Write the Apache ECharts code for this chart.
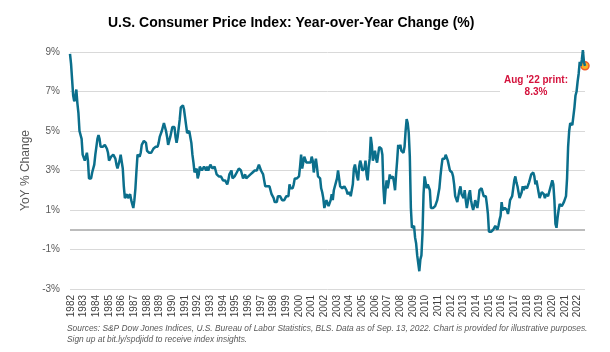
<!DOCTYPE html>
<html>
<head>
<meta charset="utf-8">
<script src="https://cdn.jsdelivr.net/npm/echarts@6/dist/echarts.min.js"></script>
<style>
  html, body { margin: 0; padding: 0; background: #fff; }
  #chart { width: 610px; height: 352px; }
</style>
</head>
<body>
<div id="chart"></div>
<script>
  // monthly CPI YoY % change, series starts Dec 1981
  const startYear = 1981
  const startMonth = 12
  const yoy1980s = [
    8.9,
    8.4, 7.6, 6.8, 6.5, 6.7, 7.1, 6.4, 5.9, 5.0, 5.1, 4.6, 3.8,
    3.7, 3.5, 3.6, 3.9, 3.5, 2.6, 2.5, 2.6, 2.9, 2.9, 3.3, 3.8,
    4.2, 4.6, 4.8, 4.6, 4.2, 4.2, 4.2, 4.3, 4.3, 4.3, 4.1, 3.9,
    3.5, 3.5, 3.7, 3.7, 3.8, 3.8, 3.6, 3.3, 3.1, 3.2, 3.5, 3.8,
    3.9, 3.1, 2.2, 1.6, 1.5, 1.8, 1.6, 1.6, 1.8, 1.5, 1.3, 1.1,
    1.5, 2.1, 3.0, 3.8, 3.9, 3.7, 3.9, 4.3, 4.4, 4.5, 4.5, 4.4,
    4.0, 3.9, 3.9, 3.9, 3.9, 4.0, 4.1, 4.0, 4.2, 4.2, 4.2, 4.4,
    4.7, 4.8, 5.0, 5.1, 5.4, 5.2, 5.0, 4.7, 4.3, 4.5, 4.7, 4.6
  ]
  const yoy1990s = [
    5.2, 5.3, 5.2, 4.7, 4.4, 4.7, 4.8, 5.6, 6.2, 6.3, 6.3, 6.1,
    5.7, 5.3, 4.9, 4.9, 5.0, 4.7, 4.4, 3.8, 3.4, 2.9, 3.0, 3.1,
    2.6, 2.8, 3.2, 3.2, 3.0, 3.1, 3.2, 3.1, 3.0, 3.2, 3.0, 2.9,
    3.3, 3.2, 3.1, 3.2, 3.2, 3.0, 2.8, 2.8, 2.7, 2.8, 2.7, 2.7,
    2.5, 2.5, 2.5, 2.4, 2.3, 2.5, 2.8, 2.9, 3.0, 2.6, 2.7, 2.7,
    2.8, 2.9, 2.9, 3.1, 3.2, 3.0, 2.8, 2.6, 2.5, 2.8, 2.6, 2.5,
    2.7, 2.7, 2.8, 2.9, 2.9, 2.8, 3.0, 2.9, 3.0, 3.0, 3.3, 3.3,
    3.0, 3.0, 2.8, 2.5, 2.2, 2.3, 2.2, 2.2, 2.2, 2.1, 1.8, 1.7,
    1.6, 1.4, 1.4, 1.4, 1.7, 1.7, 1.7, 1.6, 1.5, 1.5, 1.5, 1.6,
    1.7, 1.6, 1.7, 2.3, 2.1, 2.0, 2.1, 2.3, 2.6, 2.6, 2.6, 2.7
  ]
  const yoy2000s = [
    2.7, 3.2, 3.8, 3.1, 3.2, 3.7, 3.7, 3.4, 3.5, 3.4, 3.4, 3.4,
    3.7, 3.5, 2.9, 3.3, 3.6, 3.2, 2.7, 2.7, 2.6, 2.1, 1.9, 1.6,
    1.1, 1.1, 1.5, 1.6, 1.2, 1.1, 1.5, 1.8, 1.5, 2.0, 2.2, 2.4,
    2.6, 3.0, 3.0, 2.2, 2.1, 2.1, 2.1, 2.2, 2.3, 2.0, 1.8, 1.9,
    1.9, 1.7, 1.7, 2.3, 3.1, 3.3, 3.0, 2.7, 2.5, 3.2, 3.5, 3.3,
    3.0, 3.0, 3.1, 3.5, 2.8, 2.5, 3.2, 3.6, 4.7, 4.3, 3.5, 3.4,
    4.0, 3.6, 3.4, 3.5, 4.2, 4.3, 4.1, 3.8, 2.1, 1.3, 2.0, 2.5,
    2.1, 2.4, 2.8, 2.6, 2.7, 2.7, 2.4, 2.0, 2.8, 3.5, 4.3, 4.1,
    4.3, 4.0, 4.0, 3.9, 4.2, 5.0, 5.6, 5.4, 4.9, 3.7, 1.1, 0.1,
    0.0, 0.2, -0.4, -0.7, -1.3, -1.4, -2.1, -1.5, -1.3, -0.2, 1.8, 2.7
  ]
  const yoy2010s = [
    2.6, 2.1, 2.3, 2.2, 2.0, 1.1, 1.2, 1.1, 1.1, 1.2, 1.1, 1.5,
    1.6, 2.1, 2.7, 3.2, 3.6, 3.6, 3.6, 3.8, 3.9, 3.5, 3.4, 3.0,
    2.9, 2.9, 2.7, 2.3, 1.7, 1.7, 1.4, 1.7, 2.0, 2.2, 1.8, 1.7,
    1.6, 2.0, 1.5, 1.1, 1.4, 1.8, 2.0, 1.5, 1.2, 1.0, 1.2, 1.5,
    1.6, 1.1, 1.5, 2.0, 2.1, 2.1, 2.0, 1.7, 1.7, 1.7, 1.3, 0.8,
    -0.1, 0.0, -0.1, -0.2, 0.0, 0.1, 0.2, 0.2, 0.0, 0.2, 0.5, 0.7,
    1.4, 1.0, 0.9, 1.1, 1.0, 1.0, 0.8, 1.1, 1.5, 1.6, 1.7, 2.1,
    2.5, 2.7, 2.4, 2.2, 1.9, 1.6, 1.7, 1.9, 2.2, 2.0, 2.2, 2.1,
    2.1, 2.2, 2.4, 2.5, 2.8, 2.9, 2.9, 2.7, 2.3, 2.5, 2.2, 1.9,
    1.6, 1.5, 1.9, 2.0, 1.8, 1.6, 1.8, 1.7, 1.7, 1.8, 2.1, 2.3
  ]
  const yoy2020s = [
    2.5, 2.3, 1.5, 0.3, 0.1, 0.6, 1.0, 1.3, 1.4, 1.2, 1.2, 1.4,
    1.4, 1.7, 2.6, 4.2, 5.0, 5.4, 5.4, 5.3, 5.4, 6.2, 6.8, 7.0,
    7.5, 7.9, 8.5, 8.3, 8.6, 9.1, 8.5, 8.3
  ]
  const yTicks = [-3, -1, 1, 3, 5, 7, 9]
  const noteLines = ["Aug '22 print:", '8.3%']
  const sourceLines = [
    'Sources: S&P Dow Jones Indices, U.S. Bureau of Labor Statistics, BLS. Data as of Sep. 13, 2022. Chart is provided for illustrative purposes.',
    'Sign up at bit.ly/spdjidd to receive index insights.'
  ]

  const values = [...yoy1980s, ...yoy1990s, ...yoy2000s, ...yoy2010s, ...yoy2020s]
  const months = values.map((v, i) => {
    const m = startMonth - 1 + i
    const y = startYear + Math.floor(m / 12)
    return y + '-' + String(m % 12 + 1).padStart(2, '0')
  })
  const lastIdx = values.length - 1

  const font = "'Liberation Sans', Arial, sans-serif"
  const chart = echarts.init(document.getElementById('chart'))
  chart.setOption({
    animation: false,
    textStyle: { fontFamily: font },
    title: {
      text: 'U.S. Consumer Price Index: Year-over-Year Change (%)',
      left: 103,
      top: 11,
      textStyle: { fontFamily: font, fontSize: 14, fontWeight: 'bold', color: '#000' }
    },
    grid: { left: 70, right: 25, top: 52, bottom: 63 },
    xAxis: {
      type: 'category',
      data: months,
      boundaryGap: false,
      axisLine: { show: false },
      axisTick: { show: false },
      axisLabel: {
        interval: (i, v) => v.endsWith('-01'),
        formatter: v => v.slice(0, 4),
        rotate: 90,
        margin: 6,
        fontSize: 10,
        color: '#404040'
      },
      splitLine: { show: false }
    },
    yAxis: {
      type: 'value',
      min: yTicks[0],
      max: yTicks[yTicks.length - 1],
      interval: 2,
      name: 'YoY % Change',
      nameLocation: 'middle',
      nameGap: 35,
      nameTextStyle: { fontSize: 12, color: '#595959' },
      axisLine: { show: false },
      axisTick: { show: false },
      axisLabel: { formatter: '{value}%', fontSize: 10, color: '#595959', margin: 10 },
      splitLine: { lineStyle: { color: '#d9d9d9', width: 1 } }
    },
    series: [
      {
        type: 'line',
        data: values,
        showSymbol: false,
        clip: false,
        z: 5,
        lineStyle: { color: '#0b6f8c', width: 2.5 },
        itemStyle: { color: '#0b6f8c' },
        markLine: {
          silent: true,
          symbol: 'none',
          label: { show: false },
          lineStyle: { color: '#a6a6a6', width: 1.5, type: 'solid' },
          data: [{ yAxis: 0 }]
        },
        markPoint: {
          symbol: 'circle',
          symbolSize: 8,
          itemStyle: { color: '#f9b123', borderColor: '#ef5a2a', borderWidth: 1.5 },
          label: { show: false },
          data: [{ coord: [months[lastIdx], values[lastIdx]] }]
        }
      }
    ],
    graphic: [
      {
        type: 'text',
        x: 536,
        y: 73,
        z: 1,
        style: {
          text: noteLines.join('\n'),
          font: "bold 10px 'Liberation Sans', Arial, sans-serif",
          fill: '#d4123c',
          align: 'center',
          verticalAlign: 'top',
          lineHeight: 12,
          backgroundColor: '#fff',
          padding: [1, 4]
        }
      },
      {
        type: 'text',
        left: 67,
        top: 323,
        style: {
          text: sourceLines.join('\n'),
          font: "italic 8.4px 'Liberation Sans', Arial, sans-serif",
          fill: '#595959',
          lineHeight: 11
        }
      }
    ]
  })
</script>
</body>
</html>
